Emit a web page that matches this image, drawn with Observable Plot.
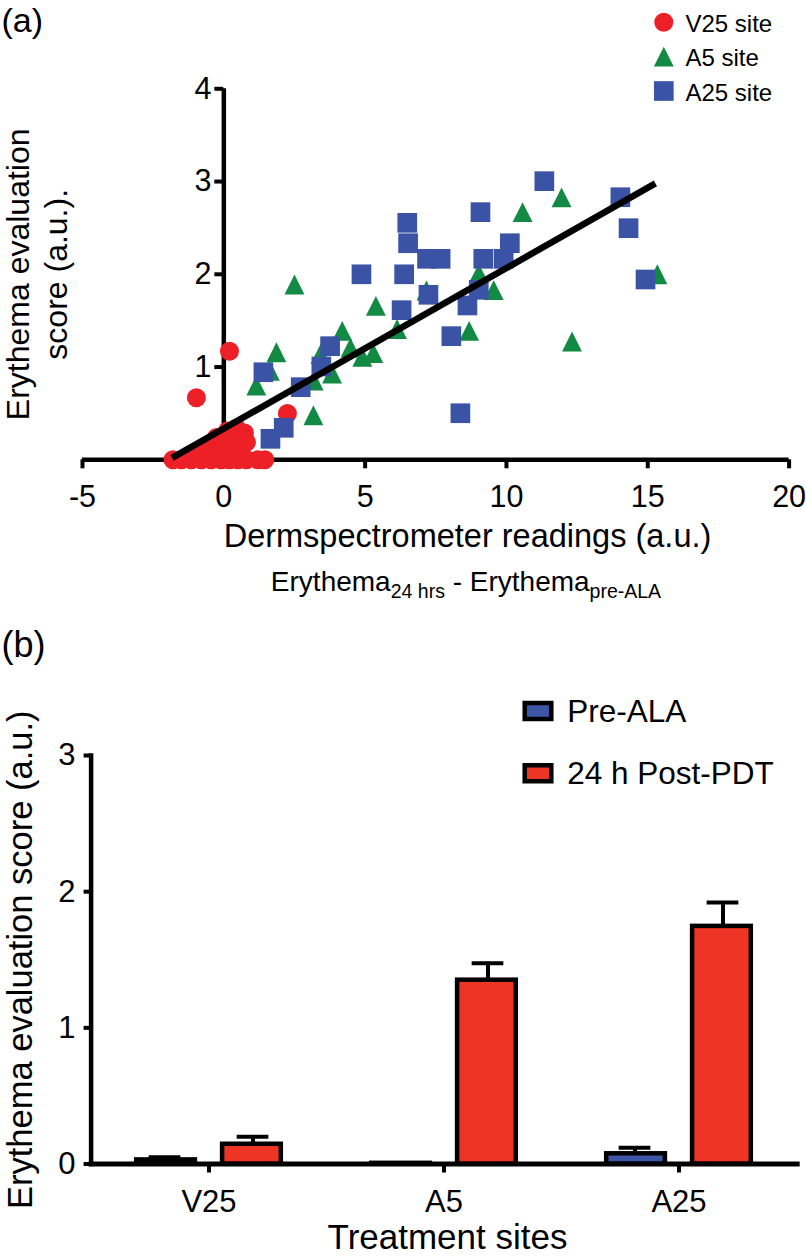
<!DOCTYPE html>
<html>
<head>
<meta charset="utf-8">
<script src="https://cdn.jsdelivr.net/npm/d3@7"></script>
<script src="https://cdn.jsdelivr.net/npm/@observablehq/plot@0.6"></script>
<style>
  html, body { margin: 0; padding: 0; background: white; }
  #page { position: relative; width: 806px; height: 1257px; overflow: hidden; font-family: 'Liberation Sans', Arial, Helvetica, sans-serif; }
  #page svg { display: block; }
  #sub { position: absolute; left: 166px; width: 600px; top: 568px; text-align: center; font-size: 28px; line-height: 28px; color: black; white-space: nowrap; }
  #sub sub { font-size: 19.5px; vertical-align: -7px; line-height: 0; }
</style>
</head>
<body>
<div id="page"></div>
<script>
// ---------- Panel (a) data: [dermspectrometer reading, erythema score] ----------
const v25Site = [
  [-1.8,0],[-1.5,0],[-1.15,0],[-0.8,0],[-0.45,0],[-0.1,0],[0.2,0],[0.5,0],[0.8,0],[1.2,0],[1.45,0],
  [-1.2,0.05],[-0.86,0.1],[-0.54,0.15],[-0.26,0.24],[0.13,0.31],[0.45,0.34],[0.73,0.29],[0.8,0.19],
  [0.0,0.12],[0.35,0.15],[0.6,0.08],[-0.2,0.06],
  [-0.97,0.67],[0.2,1.17],[2.25,0.5]
];
const a5Site = [
  [1.15,0.80],[1.63,0.96],[1.86,1.16],[2.50,1.89],[3.17,0.48],[3.18,0.855],[3.83,0.93],[3.42,1.14],
  [4.19,1.39],[4.48,1.21],[4.90,1.11],[5.29,1.15],[5.38,1.66],[6.13,1.41],[7.17,1.825],[8.68,1.39],
  [9.02,2.01],[9.55,1.83],[10.57,2.67],[11.95,2.83],[12.32,1.275],[15.34,2.0]
];
const a25Site = [
  [1.40,0.944],[1.65,0.226],[2.12,0.345],[2.72,0.783],[3.45,1.006],[3.76,1.225],[4.87,2.0],[6.29,1.613],
  [6.38,2.0],[6.49,2.555],[6.52,2.335],[7.19,2.167],[7.67,2.167],[7.24,1.779],[8.05,1.333],[8.37,0.502],
  [8.62,1.664],[9.02,1.833],[9.08,2.67],[9.18,2.167],[9.90,2.167],[10.12,2.335],[11.34,3.004],[14.03,2.831],
  [14.32,2.497],[14.92,1.944]
];
const fitLine = [[-1.83,0.02],[15.27,2.98]];
const xTicksA = [-5,0,5,10,15,20];
const yTicksA = [1,2,3,4];
const legendA = [
  {label: "V25 site", key: "circle"},
  {label: "A5 site", key: "triangle"},
  {label: "A25 site", key: "square"}
];

// ---------- Panel (b) data ----------
const sites = ["V25","A5","A25"];
const preMean = [0.03, 0.005, 0.075];
const preSem = [0.02, 0, 0.045];
const postMean = [0.145, 1.35, 1.745];
const postSem = [0.055, 0.125, 0.175];
const yTicksB = [0,1,2,3];
const legendB = [
  {label: "Pre-ALA", key: "pre"},
  {label: "24 h Post-PDT", key: "post"}
];

// ---------- styles ----------
const FONT = "'Liberation Sans', Arial, Helvetica, sans-serif";
const RED = "#ED1F27", GREEN = "#138A43", BLUE = "#3B53A4";
const BAR_RED = "#EE3424", BAR_BLUE = "#3C55A5";
const tri = {draw(ctx, size) { const a = Math.sqrt(size), h = a / 2; ctx.moveTo(0, -h); ctx.lineTo(h, h); ctx.lineTo(-h, h); ctx.closePath(); }};
const swatch = {draw(ctx, size) { const h = Math.sqrt(size / 1.66), w = 1.66 * h; ctx.rect(-w / 2, -h / 2, w, h); }};
const symA = {circle: {symbol: "circle", r: 9.5, fill: RED}, triangle: {symbol: tri, r: 11.2, fill: GREEN}, square: {symbol: "square", r: 11.1, fill: BLUE}};
const fillB = {pre: BAR_BLUE, post: BAR_RED};

// ---------- Panel (a) ----------
const WA = 806, HA = 615, mlA = 82, mrA = 17.4, mtA = 88.3, mbA = 155.7;
const xDomA = [-5, 20], yDomA = [0, 4];
const x0px = d3.scaleLinear(xDomA, [mlA, WA - mrA])(0);

const marksA = [
  Plot.ruleY([0], {strokeWidth: 4.5}),
  Plot.ruleX([0], {y1: 0, y2: 4, strokeWidth: 4.5}),
  Plot.axisX(xTicksA, {tickSize: 9, strokeWidth: 4, tickPadding: 17, fontSize: 30.5, label: null, tickFormat: d => String(d)}),
  Plot.axisY(yTicksA, {tickSize: 9, strokeWidth: 4, tickPadding: 3.3, fontSize: 30.5, label: null, dx: x0px - mlA, tickFormat: d => String(d)}),
  Plot.dot(v25Site, {x: d => d[0], y: d => d[1], ...symA.circle}),
  Plot.dot(a5Site, {x: d => d[0], y: d => d[1], ...symA.triangle}),
  Plot.dot(a25Site, {x: d => d[0], y: d => d[1], ...symA.square}),
  Plot.line(fitLine, {x: d => d[0], y: d => d[1], stroke: "black", strokeWidth: 6.5, strokeLinecap: "butt"}),
  Plot.text(["Erythema evaluation\nscore (a.u.)."], {frameAnchor: "left", dx: 66 - mlA, rotate: -90, lineAnchor: "bottom", lineHeight: 1.16, fontSize: 32, textAnchor: "middle"}),
  Plot.text(["Dermspectrometer readings (a.u.)"], {frameAnchor: "bottom", dx: 467 - (mlA + WA - mrA) / 2, dy: 546 - (HA - mbA), lineAnchor: "bottom", textAnchor: "middle", fontSize: 32.5}),
  Plot.text(["(a)"], {frameAnchor: "top-left", dx: 1 - mlA, dy: 31 - mtA, textAnchor: "start", lineAnchor: "bottom", fontSize: 34})
];
legendA.forEach((item, i) => {
  marksA.push(Plot.dot([item], {frameAnchor: "top-right", dx: -125.3, dy: -66.6 + i * 34.4, ...symA[item.key]}));
  marksA.push(Plot.text([item], {frameAnchor: "top-right", text: d => d.label, dx: -103.6, dy: -56.6 + i * 34.2, textAnchor: "start", lineAnchor: "bottom", fontSize: 24}));
});

const plotA = Plot.plot({
  width: WA, height: HA, marginLeft: mlA, marginRight: mrA, marginTop: mtA, marginBottom: mbA,
  x: {domain: xDomA, label: null}, y: {domain: yDomA, label: null},
  style: {fontFamily: FONT, fontSize: "30px", color: "black", background: "white", overflow: "visible"},
  marks: marksA
});

// ---------- Panel (b) ----------
const WB = 806, HB = 642, mlB = 90.6, mrB = 9.3, mtB = 140, mbB = 93.5;
const rows = sites.map((s, i) => ({site: s, pre: preMean[i], preSem: preSem[i], post: postMean[i], postSem: postSem[i]}));

const marksB = [
  Plot.ruleY([0], {strokeWidth: 5, insetRight: -3, insetLeft: -2}),
  Plot.frame({anchor: "left", strokeWidth: 4.5}),
  Plot.axisX({tickSize: 9, strokeWidth: 4, tickPadding: 17, fontSize: 31, label: null}),
  Plot.axisY(yTicksB, {tickSize: 7, strokeWidth: 4, tickPadding: 8.6, fontSize: 31, label: null, tickFormat: d => String(d)}),
  Plot.ruleX(rows.filter(d => d.preSem > 0), {x: "site", y1: "pre", y2: d => d.pre + d.preSem, dx: -44, strokeWidth: 4}),
  Plot.tickY(rows.filter(d => d.preSem > 0), {x: "site", y: d => d.pre + d.preSem, insetLeft: 57.65, insetRight: 145.65, strokeWidth: 4}),
  Plot.ruleX(rows, {x: "site", y1: "post", y2: d => d.post + d.postSem, dx: 44, strokeWidth: 4}),
  Plot.tickY(rows, {x: "site", y: d => d.post + d.postSem, insetLeft: 145.65, insetRight: 57.65, strokeWidth: 4}),
  Plot.barY(rows, {x: "site", y: "pre", fill: BAR_BLUE, stroke: "black", strokeWidth: 4.5, insetLeft: 45.2, insetRight: 131.1}),
  Plot.barY(rows, {x: "site", y: "post", fill: BAR_RED, stroke: "black", strokeWidth: 4.5, insetLeft: 131.1, insetRight: 45.2}),
  Plot.text(["Erythema evaluation score (a.u.)"], {frameAnchor: "left", dx: 31 - mlB, rotate: -90, lineAnchor: "bottom", textAnchor: "middle", fontSize: 34.5}),
  Plot.text(["Treatment sites"], {frameAnchor: "bottom", dx: 447 - (mlB + WB - mrB) / 2, dy: 633 - (HB - mbB), lineAnchor: "bottom", textAnchor: "middle", fontSize: 35}),
  Plot.text(["(b)"], {frameAnchor: "top-left", dx: 1 - mlB, dy: 16 - mtB, textAnchor: "start", lineAnchor: "top", fontSize: 36})
];
legendB.forEach((item, i) => {
  marksB.push(Plot.dot([item], {frameAnchor: "top-right", dx: -259.2, dy: -44.5 + i * 62.3, symbol: swatch, r: 11.64, fill: fillB[item.key], stroke: "black", strokeWidth: 4.5}));
  marksB.push(Plot.text([item], {frameAnchor: "top-right", text: d => d.label, dx: -230, dy: -34 + i * 62.3, textAnchor: "start", lineAnchor: "bottom", fontSize: 31.5}));
});

const plotB = Plot.plot({
  width: WB, height: HB, marginLeft: mlB, marginRight: mrB, marginTop: mtB, marginBottom: mbB,
  x: {domain: sites, padding: 0, label: null}, y: {domain: [0, 3], label: null},
  style: {fontFamily: FONT, fontSize: "30px", color: "black", background: "white", overflow: "visible"},
  marks: marksB
});

const page = document.getElementById("page");
page.appendChild(plotA);
page.appendChild(plotB);
const sub = document.createElement("div");
sub.id = "sub";
sub.innerHTML = "Erythema<sub>24 hrs</sub> - Erythema<sub>pre-ALA</sub>";
page.appendChild(sub);
</script>
</body>
</html>
